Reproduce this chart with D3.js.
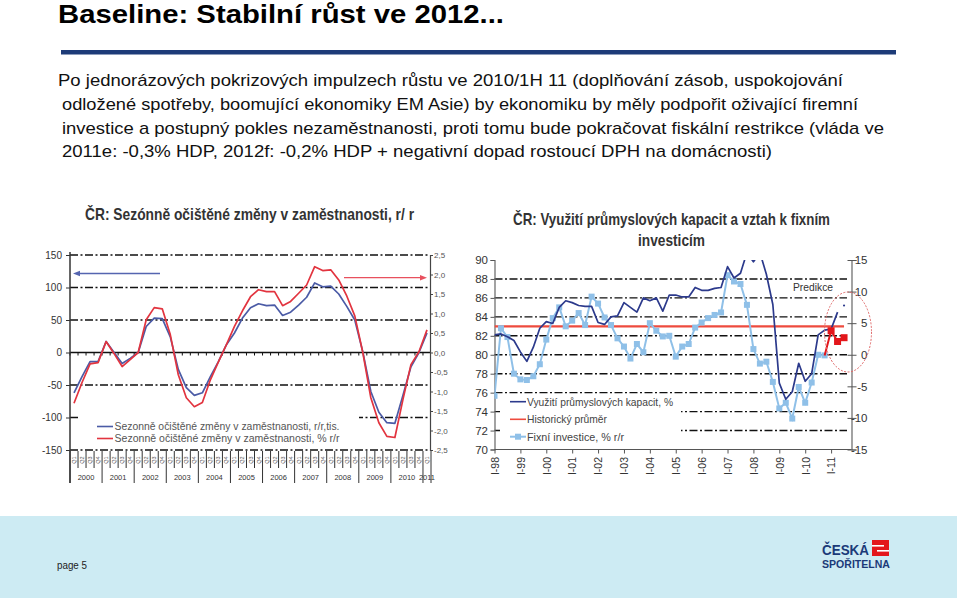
<!DOCTYPE html>
<html><head><meta charset="utf-8">
<script src="https://cdn.jsdelivr.net/npm/d3@7"></script>
<style>
html,body{margin:0;padding:0;background:#fff;}
svg{display:block;}
</style></head><body>
<svg id="slide" width="960" height="598"></svg>
<script>
// ---------------- DATA ----------------
const slideTitle = "Baseline: Stabilní růst ve 2012...";
const bodyLines = [
  "Po jednorázových pokrizových impulzech růstu ve 2010/1H 11 (doplňování zásob, uspokojování",
  "odložené spotřeby, boomující ekonomiky EM Asie) by ekonomiku by měly podpořit oživající firemní",
  "investice a postupný pokles nezaměstnanosti, proti tomu bude pokračovat fiskální restrikce (vláda ve",
  "2011e: -0,3% HDP, 2012f: -0,2% HDP + negativní dopad rostoucí DPH na domácnosti)"
];

// Left chart: employment
const empYears = ["2000","2001","2002","2003","2004","2005","2006","2007","2008","2009","2010","2011"];
const empQuarterLabels = ["Q1","Q2","Q3","Q4"];
const empThousands = [-62,-37,-14,-14,17,0,-17,-9,0,40,53,52,24,-26,-54,-66,-62,-37,-14,12,30,53,69,75,72,73,57,62,73,85,107,101,102,90,71,50,1,-60,-92,-108,-109,-66,-22,0,30];
const empPercent = [-1.30,-0.77,-0.29,-0.26,0.28,-0.03,-0.36,-0.18,0.0,0.84,1.15,1.12,0.46,-0.57,-1.16,-1.39,-1.28,-0.70,-0.24,0.20,0.67,1.07,1.43,1.61,1.56,1.56,1.20,1.31,1.52,1.73,2.20,2.10,2.12,1.86,1.45,0.94,0.0,-1.16,-1.80,-2.15,-2.18,-1.21,-0.31,0.02,0.58];
const empLeftTicks = [150,100,50,0,-50,-100,-150];
const empRightTicks = [2.5,2,1.5,1,0.5,0,-0.5,-1,-1.5,-2,-2.5];
const empSeriesNames = ["Sezonně očištěné změny v zaměstnanosti, r/r,tis.","Sezonně očištěné změny v zaměstnanosti, % r/r"];

// Right chart: capacity utilisation & fixed investment
const capYears = ["98","99","00","01","02","03","04","05","06","07","08","09","10","11"];
const capQuarterRoman = ["I","II","III","IV"];
const capUtilization = [82.1,82.2,81.9,81.5,80.3,79.3,80.8,82.8,83.5,83.3,85.0,85.7,85.5,85.2,85.1,85.1,83.4,83.2,84.0,84.1,85.5,85.0,84.5,86.0,85.7,86.0,84.6,86.3,86.3,86.1,86.1,87.1,86.8,86.8,87.0,87.1,89.3,88.1,88.6,90.8,89.8,90.8,88.5,85.3,77.0,75.3,76.1,79.1,77.2,78.0,82.1,82.6,82.7,84.5];
const capUtilizationLast = [85.2];
const investment = [-6.5,4.2,2.8,-3.0,-3.9,-4.0,-3.4,-1.5,2.4,5.8,7.5,4.5,5.4,6.6,4.7,9.2,8.1,5.9,4.7,2.6,1.3,-0.6,1.7,0.4,5.0,3.8,2.9,3.0,-0.3,1.3,1.7,4.3,5.1,5.8,6.3,6.7,12.6,11.6,11.2,7.9,0.9,-1.4,-1.1,-4.3,-8.5,-7.6,-10.1,-5.1,-7.6,-4.4,0.0,-0.1];
const investmentForecast = [3.8,2.1,2.7];
const historicalAverage = 83;
const capLeftTicks = [90,88,86,84,82,80,78,76,74,72,70];
const capRightTicks = [15,10,5,0,-5,-10,-15];
const capSeriesNames = ["Využití  průmyslových kapacit, %","Historický průměr","Fixní investice, % r/r"];

// ---------------- DRAW ----------------
const svg = d3.select("#slide");
const NARROW = "'Liberation Sans Narrow','Arial Narrow','Liberation Sans',Arial,sans-serif";
const SANS = "'Liberation Sans',Arial,sans-serif";
const DASHDOT = "8,2.5,2,2.5";

function txt(g, s, x, y, o) {
  const t = g.append("text").attr("x", x).attr("y", y).text(s)
    .attr("font-family", o.family || SANS).attr("font-size", o.size)
    .attr("fill", o.fill || "#000");
  if (o.weight) t.attr("font-weight", o.weight);
  if (o.anchor) t.attr("text-anchor", o.anchor);
  if (o.len) t.attr("textLength", o.len).attr("lengthAdjust", "spacingAndGlyphs");
  return t;
}

// Footer band
svg.append("rect").attr("x", 0).attr("y", 516).attr("width", 957).attr("height", 82).attr("fill", "#cdebf3");
txt(svg, "page 5", 57, 569, {size: 11, fill: "#222", len: 30});
txt(svg, "ČESKÁ", 822, 555, {size: 15, weight: "bold", fill: "#1b3a78", family: NARROW, len: 47});
txt(svg, "SPOŘITELNA", 822, 567.5, {size: 11, weight: "bold", fill: "#1b3a78", family: NARROW, len: 68});
svg.append("rect").attr("x", 872).attr("y", 540).attr("width", 17).attr("height", 16).attr("fill", "#e3161b");
svg.append("rect").attr("x", 872).attr("y", 545).attr("width", 12).attr("height", 1.6).attr("fill", "#fff");
svg.append("rect").attr("x", 877).attr("y", 550).attr("width", 12).attr("height", 1.6).attr("fill", "#fff");

// Header
txt(svg, slideTitle, 58, 23, {size: 26, weight: "bold", family: NARROW, len: 446});
svg.append("rect").attr("x", 61).attr("y", 50).attr("width", 835).attr("height", 4.5).attr("fill", "#1d3b78");
const bodyX = [58, 62, 62, 62], bodyLen = [785, 796, 822, 710], bodyY = [86, 110, 133.5, 157];
bodyLines.forEach((l, i) => txt(svg, l, bodyX[i], bodyY[i], {size: 17, family: NARROW, fill: "#111", len: bodyLen[i]}));

// ========== LEFT CHART ==========
const gL = svg.append("g");
txt(gL, "ČR: Sezónně očištěné změny v zaměstnanosti, r/ r", 85, 219.5, {size: 17, weight: "bold", family: NARROW, fill: "#333", len: 329});

const empPeriods = [];
empYears.forEach(y => empQuarterLabels.forEach(q => empPeriods.push(y + " " + q)));
empPeriods.splice(45);
const xL = d3.scaleBand().domain(empPeriods).range([70, 431]);
const xLc = p => xL(p) + xL.bandwidth() / 2;
const yL = d3.scaleLinear().domain([-150, 150]).range([450, 255]);
const yR = d3.scaleLinear().domain([-2.5, 2.5]).range([450, 255]);

// gridlines
gL.append("g").selectAll("line").data(empLeftTicks.filter(d => d !== 0)).join("line")
  .attr("x1", 70).attr("x2", 430).attr("y1", d => yL(d)).attr("y2", d => yL(d))
  .attr("stroke", "#111").attr("stroke-width", 1.4).attr("stroke-dasharray", DASHDOT);
// zero line with quarter ticks
gL.append("line").attr("x1", 70).attr("x2", 430).attr("y1", yL(0)).attr("y2", yL(0)).attr("stroke", "#111").attr("stroke-width", 1.3);
gL.append("g").selectAll("line").data(empPeriods).join("line")
  .attr("x1", d => xL(d)).attr("x2", d => xL(d)).attr("y1", yL(0)).attr("y2", yL(0) + 3)
  .attr("stroke", "#111").attr("stroke-width", 1);

// legend box
gL.append("rect").attr("x", 80).attr("y", 410).attr("width", 279).attr("height", 37).attr("fill", "#fff");
const legL = [{c: "#4b5ba6", y: 426.5}, {c: "#e2343f", y: 438.5}];
legL.forEach((l, i) => {
  gL.append("line").attr("x1", 97).attr("x2", 113).attr("y1", l.y).attr("y2", l.y).attr("stroke", l.c).attr("stroke-width", 1.6);
  txt(gL, empSeriesNames[i], 114.5, l.y + 3.5, {size: 10, fill: "#555", len: 225});
});

// left axis
const axL = gL.append("g").attr("transform", "translate(70,0)")
  .call(d3.axisLeft(yL).tickValues(empLeftTicks).tickSize(4).tickFormat(d => String(d)));
axL.select(".domain").remove();
axL.selectAll("line").attr("stroke", "#333");
axL.selectAll("text").attr("font-family", SANS).attr("font-size", 10).attr("fill", "#333").attr("x", -8);
gL.append("line").attr("x1", 70).attr("x2", 70).attr("y1", 252).attr("y2", 483).attr("stroke", "#333").attr("stroke-width", 1.5);

// right axis
const axR = gL.append("g").attr("transform", "translate(430,0)")
  .call(d3.axisRight(yR).tickValues(empRightTicks).tickSize(3)
    .tickFormat(d => (d < 0 ? "-" : "") + Math.abs(d).toFixed(1).replace(".", ",")));
axR.select(".domain").attr("stroke", "#444").attr("stroke-width", 1.2);
axR.selectAll("line").attr("stroke", "#444");
axR.selectAll("text").attr("font-family", SANS).attr("font-size", 8).attr("fill", "#555").attr("x", 4);

// bottom category axis
const gx = gL.append("g");
gx.selectAll("line.q").data(empPeriods).join("line").attr("class", "q")
  .attr("x1", d => xL(d)).attr("x2", d => xL(d)).attr("y1", 451).attr("y2", d => d.endsWith("Q1") ? 483 : 468)
  .attr("stroke", "#333").attr("stroke-width", 1);
gx.append("line").attr("x1", 431).attr("x2", 431).attr("y1", 451).attr("y2", 483).attr("stroke", "#333");
gx.selectAll("text.q").data(empPeriods).join("text").attr("class", "q")
  .attr("transform", d => `translate(${xLc(d) + 2},460) rotate(-90)`)
  .attr("text-anchor", "middle").attr("font-family", SANS).attr("font-size", 5.5).attr("fill", "#555")
  .text(d => d.split(" ")[1]);
gx.selectAll("text.y").data(empYears).join("text").attr("class", "y")
  .attr("x", y => {
    const ps = empPeriods.filter(p => p.startsWith(y));
    return (xL(ps[0]) + xL(ps[ps.length - 1]) + xL.bandwidth()) / 2;
  })
  .attr("y", 480).attr("text-anchor", "middle").attr("font-family", SANS).attr("font-size", 7.5).attr("fill", "#333")
  .text(d => d);

// arrows
gL.append("line").attr("x1", 160).attr("x2", 78).attr("y1", 273.5).attr("y2", 273.5).attr("stroke", "#5565b0").attr("stroke-width", 1.3);
gL.append("path").attr("d", "M73,273.5 L80,270.8 L80,276.2 Z").attr("fill", "#5565b0");
gL.append("line").attr("x1", 344).attr("x2", 422).attr("y1", 277.7).attr("y2", 277.7).attr("stroke", "#e8505e").attr("stroke-width", 1.3);
gL.append("path").attr("d", "M427,277.7 L420,275 L420,280.4 Z").attr("fill", "#e8505e");

// series
gL.append("path").datum(empThousands)
  .attr("d", d3.line().x((d, i) => xLc(empPeriods[i])).y(d => yL(d)))
  .attr("fill", "none").attr("stroke", "#4b5ba6").attr("stroke-width", 1.7).attr("stroke-linejoin", "round");
gL.append("path").datum(empPercent)
  .attr("d", d3.line().x((d, i) => xLc(empPeriods[i])).y(d => yR(d)))
  .attr("fill", "none").attr("stroke", "#e2343f").attr("stroke-width", 1.7).attr("stroke-linejoin", "round");

// ========== RIGHT CHART ==========
const gC = svg.append("g");
txt(gC, "ČR: Využití průmyslových kapacit a vztah k fixním", 513, 225, {size: 17, weight: "bold", family: NARROW, fill: "#333", len: 317});
txt(gC, "investicím", 638, 245.5, {size: 17, weight: "bold", family: NARROW, fill: "#333", len: 67});

const capPeriods = [];
capYears.forEach(y => capQuarterRoman.forEach(q => capPeriods.push(q + "-" + y)));
const xC = d3.scalePoint().domain(capPeriods).range([494.5, 494.5 + 6.473 * 55]);
const yC = d3.scaleLinear().domain([70, 90]).range([449.5, 260]);
const yC2 = d3.scaleLinear().domain([-15, 15]).range([449.5, 260]);
const cL = 494.5, cR = 851.5;

svg.append("defs").append("clipPath").attr("id", "capClip").append("rect")
  .attr("x", cL).attr("y", 260).attr("width", cR - cL).attr("height", 190);

// gridlines
gC.append("g").selectAll("line").data(capLeftTicks.filter(d => d !== 70 && d !== 90)).join("line")
  .attr("x1", cL).attr("x2", 847).attr("y1", d => yC(d)).attr("y2", d => yC(d))
  .attr("stroke", "#111").attr("stroke-width", 1.4).attr("stroke-dasharray", DASHDOT);

// legend box
gC.append("rect").attr("x", 500).attr("y", 395.5).attr("width", 181).attr("height", 50).attr("fill", "#fff");
const legC = [{c: "#2c3a8c", y: 401.7, w: 1.6}, {c: "#ee4b3e", y: 419.3, w: 1.6}, {c: "#8fc0e8", y: 436.7, w: 2, sq: true}];
legC.forEach((l, i) => {
  gC.append("line").attr("x1", 510).attr("x2", 526).attr("y1", l.y).attr("y2", l.y).attr("stroke", l.c).attr("stroke-width", l.w);
  if (l.sq) gC.append("rect").attr("x", 515).attr("y", l.y - 3).attr("width", 6).attr("height", 6).attr("fill", l.c);
  txt(gC, capSeriesNames[i], 527, l.y + 4, {size: 11, fill: "#444", len: [146, 80, 97][i]});
});

// axes
const axC1 = gC.append("g").attr("transform", `translate(${cL},0)`)
  .call(d3.axisLeft(yC).tickValues(capLeftTicks).tickSize(4).tickFormat(d => String(d)));
axC1.select(".domain").attr("stroke", "#666").attr("stroke-width", 1.2);
axC1.selectAll("line").attr("stroke", "#555");
axC1.selectAll("text").attr("font-family", SANS).attr("font-size", 11.5).attr("fill", "#333").attr("x", -6.5);

const axC2 = gC.append("g").attr("transform", `translate(${cR},0)`)
  .call(d3.axisRight(yC2).tickValues(capRightTicks).tickSize(5).tickFormat(d => (d < 0 ? "-" : "") + Math.abs(d)));
axC2.select(".domain").attr("stroke", "#666").attr("stroke-width", 1.2);
axC2.selectAll("line").attr("stroke", "#555").attr("x1", -4);
axC2.selectAll("text").attr("font-family", SANS).attr("font-size", 11.5).attr("fill", "#333")
  .attr("text-anchor", "end").attr("x", 16);

const axC3 = gC.append("g").attr("transform", "translate(0,449.5)")
  .call(d3.axisBottom(xC).tickValues(capPeriods.filter(p => p.startsWith("I-"))).tickSize(4));
axC3.select(".domain").attr("stroke", "#555").attr("stroke-width", 1.2).attr("d", `M${cL},0H${cR}`);
axC3.selectAll("line").attr("stroke", "#555");
axC3.selectAll("text").attr("font-family", SANS).attr("font-size", 10.5).attr("fill", "#333")
  .attr("text-anchor", "end").attr("y", 0).attr("dy", 0)
  .attr("transform", "translate(3.8,7.5) rotate(-90)");

// series (clipped)
const plot = gC.append("g").attr("clip-path", "url(#capClip)");
plot.append("line").attr("x1", cL).attr("x2", xC(capPeriods[54])).attr("y1", yC(historicalAverage)).attr("y2", yC(historicalAverage))
  .attr("stroke", "#ee4b3e").attr("stroke-width", 2.4);
plot.append("path").datum(investment)
  .attr("d", d3.line().x((d, i) => xC(capPeriods[i])).y(d => yC2(d)))
  .attr("fill", "none").attr("stroke", "#8fc0e8").attr("stroke-width", 2);
plot.selectAll("rect.inv").data(investment).join("rect").attr("class", "inv")
  .attr("x", (d, i) => xC(capPeriods[i]) - 3).attr("y", d => yC2(d) - 3).attr("width", 6).attr("height", 6).attr("fill", "#8fc0e8");
plot.append("path").datum(capUtilization)
  .attr("d", d3.line().x((d, i) => xC(capPeriods[i])).y(d => yC(d)))
  .attr("fill", "none").attr("stroke", "#2c3a8c").attr("stroke-width", 1.7).attr("stroke-linejoin", "round");
plot.selectAll("circle.last").data(capUtilizationLast).join("circle").attr("class", "last")
  .attr("cx", (d, i) => xC(capPeriods[capUtilization.length + i])).attr("cy", d => yC(d)).attr("r", 1.1).attr("fill", "#2c3a8c");
const fStart = investment.length - 1;
const fc = [investment[fStart]].concat(investmentForecast);
plot.append("path").datum(fc)
  .attr("d", d3.line().x((d, i) => xC(capPeriods[fStart + i])).y(d => yC2(d)))
  .attr("fill", "none").attr("stroke", "#e3161b").attr("stroke-width", 2);
plot.selectAll("rect.fc").data(investmentForecast).join("rect").attr("class", "fc")
  .attr("x", (d, i) => xC(capPeriods[fStart + 1 + i]) - 3.5).attr("y", d => yC2(d) - 3.5).attr("width", 7).attr("height", 7).attr("fill", "#e3161b");

// annotations
txt(gC, "Predikce", 793, 291, {size: 11, fill: "#333", len: 40});
gC.append("ellipse").attr("cx", 848).attr("cy", 332).attr("rx", 23.5).attr("ry", 40)
  .attr("fill", "none").attr("stroke", "#e06868").attr("stroke-width", 1).attr("stroke-dasharray", "2,1.5");
</script>
</body></html>
